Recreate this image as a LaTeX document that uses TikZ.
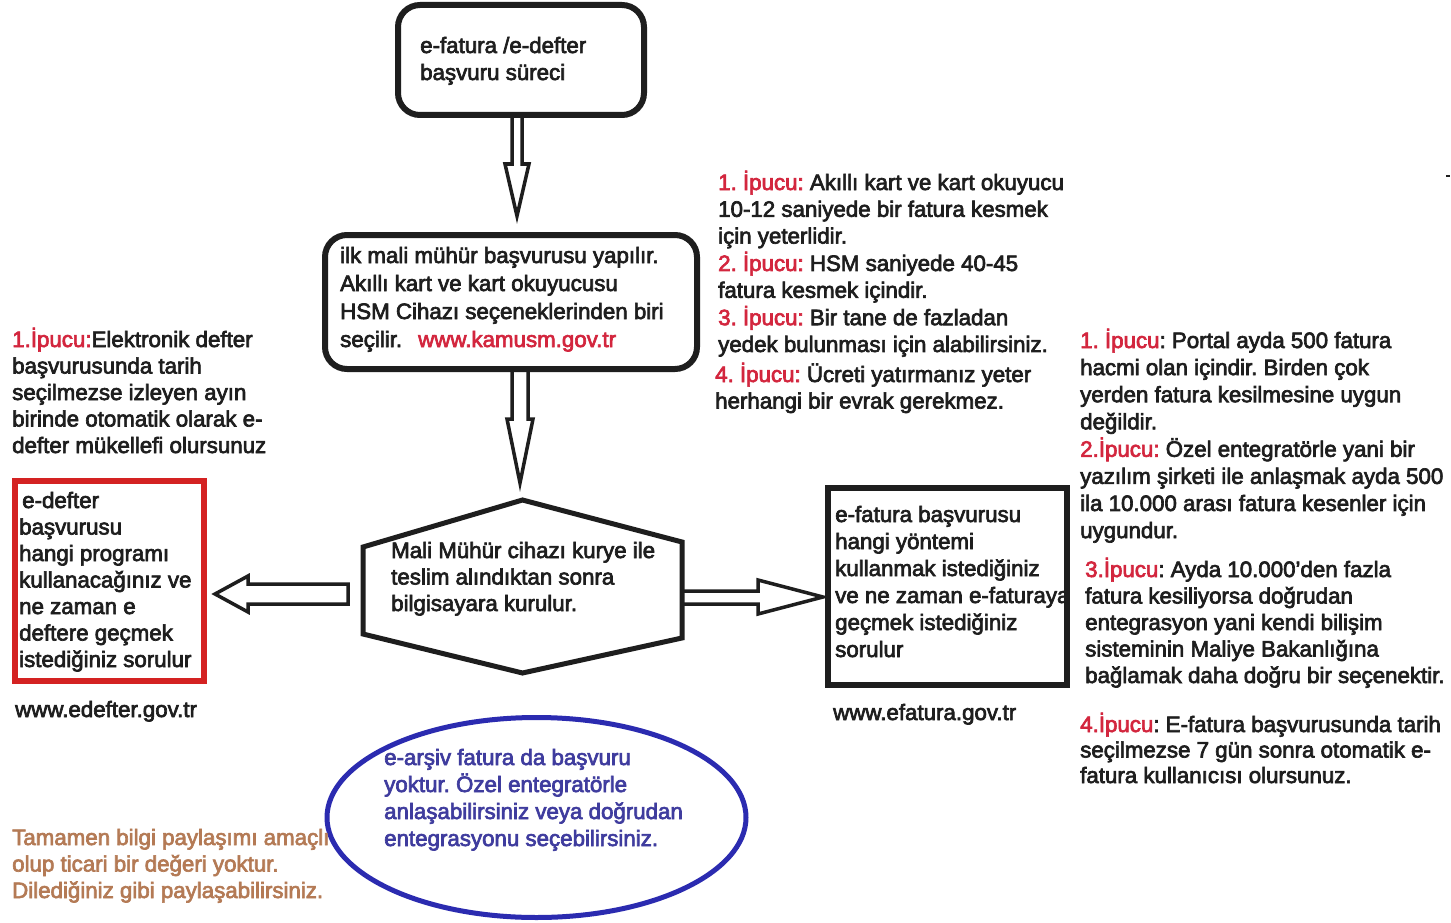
\documentclass[tikz,border=0pt]{standalone}
\usepackage{fontspec}
\setmainfont[FakeBold=3]{Liberation Sans}
\usetikzlibrary{calc,shapes.geometric}

\definecolor{tipred}{HTML}{D3263E}
\definecolor{boxred}{HTML}{D42222}
\definecolor{ovalblue}{HTML}{2B2BB0}
\definecolor{ovaltext}{HTML}{3F3C9E}
\definecolor{notebrown}{HTML}{B47A55}
\definecolor{ink}{HTML}{1E1E1E}

% multi-line text whose base anchor is the first baseline
\newcommand\txtlines[1]{\begin{tabular}[t]{@{}l@{}}#1\end{tabular}}
\newcommand\tip[1]{\textcolor{tipred}{#1}}

\begin{document}
\frenchspacing
\begin{tikzpicture}[x=1pt,y=-1pt,
  txt/.style={inner sep=0pt, anchor=base west, text=ink,
    font=\fontsize{22.3}{#1}\selectfont},
  txt/.default=26.8,
  roundbox/.style={draw=ink, line width=6pt, rounded corners=22pt, inner sep=0pt},
  plainbox/.style={draw=#1, line width=6pt, inner sep=0pt},
  frame/.style={inner sep=0pt, outer sep=0pt},
  hollow/.style={draw=ink, line width=3.5pt, line join=miter}]

\useasboundingbox (0,0) rectangle (1451,923);
\fill[white] (0,0) rectangle (1451,923);

% ---- frames of the flow chart
\node[roundbox, minimum width=246, minimum height=110] (start) at (521,60) {};
\node[roundbox, minimum width=372, minimum height=134] (seal) at (511,302) {};
\node[frame, minimum width=319, minimum height=173] (hex) at (522.5,586.5) {};
\node[plainbox=boxred, minimum width=189, minimum height=200] (ledger) at (109.5,581) {};
\node[plainbox=ink, minimum width=239, minimum height=197] (invoice) at (947.5,586.5) {};
\node[draw=ovalblue, line width=5pt, ellipse, inner sep=0pt,
      minimum width=419, minimum height=200] (archive) at (536.5,817.5) {};

% hexagonal outline of the installation step
\draw[draw=ink, line width=5pt, line join=miter]
  (hex.north) -- ($(hex.north east)+(0,42)$) -- ($(hex.south east)+(0,-35)$)
  -- (hex.south) -- ($(hex.south west)+(0,-39)$) -- ($(hex.north west)+(0,47)$) -- cycle;

% ---- hollow block arrows
\coordinate (t1) at (517,216);
\draw[hollow] (t1 |- start.south) ++(-5,0) -- ($(t1)+(-5,-52)$) -- ($(t1)+(-12,-52)$)
  -- (t1) -- ($(t1)+(12,-52)$) -- ($(t1)+(5,-52)$) -- ($(t1 |- start.south)+(5,0)$);

\coordinate (t2) at (520,483);
\draw[hollow] (t2 |- seal.south) ++(-8,0) -- ($(t2)+(-8,-64)$) -- ($(t2)+(-13,-64)$)
  -- (t2) -- ($(t2)+(13,-64)$) -- ($(t2)+(8,-64)$) -- ($(t2 |- seal.south)+(8,0)$);

\coordinate (t3) at (215,594);
\coordinate (tail3) at (348,594);
\draw[hollow] (tail3) ++(0,-10) -- ($(t3)+(33,-10)$) -- ($(t3)+(33,-18)$) -- (t3)
  -- ($(t3)+(33,18)$) -- ($(t3)+(33,10)$) -- ($(tail3)+(0,10)$) -- cycle;

\coordinate (t4) at (823,597);
\draw[hollow] ($(hex.east |- t4)+(0,-6)$) -- ($(t4)+(-65,-6)$) -- ($(t4)+(-65,-17)$) -- (t4)
  -- ($(t4)+(-65,17)$) -- ($(t4)+(-65,7)$) -- ($(hex.east |- t4)+(0,7)$);

% ---- texts
\node[txt=27] (starttext) at (420,53) {\txtlines{e-fatura /e-defter\\ başvuru süreci}};

\node[txt=28] (sealtext) at (340,263) {\txtlines{ilk mali mühür başvurusu yapılır.\\
  Akıllı kart ve kart okuyucusu\\ HSM Cihazı seçeneklerinden biri\\
  \makebox[78pt][l]{seçilir.}\textcolor{tipred}{www.kamusm.gov.tr}}};

\node[txt=26.5] (hextext) at (391,558) {\txtlines{Mali Mühür cihazı kurye ile\\
  teslim alındıktan sonra\\ bilgisayara kurulur.}};

\node[txt=26.5] (ledgertext) at (19,508) {\txtlines{\hspace{3pt}e-defter\\ başvurusu\\
  hangi programı\\ kullanacağınız ve\\ ne zaman e\\ deftere geçmek\\ istediğiniz sorulur}};
\node[txt] (ledgerurl) at (15,717) {www.edefter.gov.tr};

\node[txt=26.5] (ledgertip) at (12,347) {\txtlines{\tip{1.İpucu:}Elektronik defter\\
  başvurusunda tarih\\ seçilmezse izleyen ayın\\ birinde otomatik olarak e-\\
  defter mükellefi olursunuz}};

\node[txt=27] (invoicetext) at (835,522) {\txtlines{e-fatura başvurusu\\ hangi yöntemi\\
  kullanmak istediğiniz\\ ve ne zaman e-faturaya\\ geçmek istediğiniz\\ sorulur}};
\node[txt] (invoiceurl) at (833,720) {www.efatura.gov.tr};

\node[txt=26.8] (sealtips) at (718,190) {\txtlines{\tip{1. İpucu:} Akıllı kart ve kart okuyucu\\
  10-12 saniyede bir fatura kesmek\\ için yeterlidir.\\
  \tip{2. İpucu:} HSM saniyede 40-45\\ fatura kesmek içindir.\\
  \tip{3. İpucu:} Bir tane de fazladan\\ yedek bulunması için alabilirsiniz.}};
\node[txt=26.5] (sealtipfour) at (715,382) {\txtlines{\tip{4. İpucu:} Ücreti yatırmanız yeter\\
  herhangi bir evrak gerekmez.}};

\node[txt=27.1] (invoicetips) at (1080,348) {\txtlines{\tip{1. İpucu}: Portal ayda 500 fatura\\
  hacmi olan içindir. Birden çok\\ yerden fatura kesilmesine uygun\\ değildir.\\
  \tip{2.İpucu:} Özel entegratörle yani bir\\ yazılım şirketi ile anlaşmak ayda 500\\
  ila 10.000 arası fatura kesenler için\\ uygundur.}};
\node[txt=26.5] (invoicetipthree) at (1085,577) {\txtlines{\tip{3.İpucu}: Ayda 10.000'den fazla\\
  fatura kesiliyorsa doğrudan\\ entegrasyon yani kendi bilişim\\
  sisteminin Maliye Bakanlığına\\ bağlamak daha doğru bir seçenektir.}};
\node[txt=25.5] (invoicetipfour) at (1080,732) {\txtlines{\tip{4.İpucu}: E-fatura başvurusunda tarih\\
  seçilmezse 7 gün sonra otomatik e-\\ fatura kullanıcısı olursunuz.}};

\node[txt=27, text=ovaltext] (archivetext) at (384,765) {\txtlines{e-arşiv fatura da başvuru\\
  yoktur. Özel entegratörle\\ anlaşabilirsiniz veya doğrudan\\ entegrasyonu seçebilirsiniz.}};

\node[txt=26.5, text=notebrown] (note) at (12,845) {\txtlines{Tamamen bilgi paylaşımı amaçlı\\
  olup ticari bir değeri yoktur.\\ Dilediğiniz gibi paylaşabilirsiniz.}};

% small stray tick at the right margin
\coordinate (tickA) at (1446,176);
\coordinate (tickB) at (1450,176);
\draw[ink, line width=1.5pt] (tickA) -- (tickB);

\end{tikzpicture}
\end{document}
